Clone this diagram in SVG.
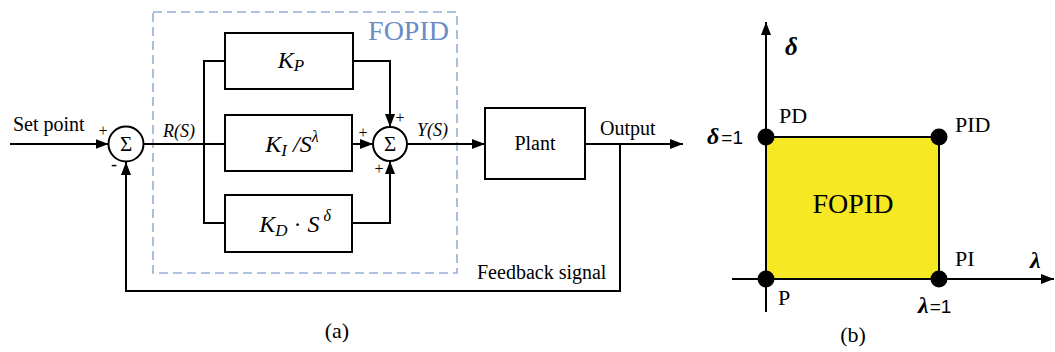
<svg xmlns="http://www.w3.org/2000/svg" width="1055" height="352" viewBox="0 0 1055 352">
<defs>
<marker id="arr" markerUnits="userSpaceOnUse" markerWidth="13" markerHeight="10" refX="13" refY="5" orient="auto">
<path d="M0,0 L13,5 L0,10 z" fill="#000"/>
</marker>
<style>
.t{font-family:'Liberation Serif','DejaVu Serif','Noto Serif',serif;fill:#000}
.it{font-style:italic}
.bi{font-style:italic;font-weight:bold}
.s{font-family:'Liberation Sans','DejaVu Sans',sans-serif;fill:#000}
.box{fill:#fff;stroke:#000;stroke-width:2}
.ln{fill:none;stroke:#000;stroke-width:2}
.ar{fill:none;stroke:#000;stroke-width:2;marker-end:url(#arr)}
.sum{fill:#fff;stroke:#000;stroke-width:2}
</style>
</defs>
<rect width="1055" height="352" fill="#fff"/>

<g id="fopid-frame">
<rect x="153" y="12" width="304" height="261" fill="none" stroke="#95b0d6" stroke-width="1.6" stroke-dasharray="9 5"/>
<text class="t" x="449" y="40" font-size="28" text-anchor="end" style="fill:#6a8cc6">FOPID</text>
</g>

<g id="connectors">
<path class="ar" d="M10,144 H108.5"/>
<path class="ln" d="M143.5,144 H225"/>
<path class="ln" d="M225,61 H204 V223 H225"/>
<path class="ar" d="M353,61 H390 V127"/>
<path class="ar" d="M352,144 H373"/>
<path class="ar" d="M352,223 H390 V161"/>
<path class="ar" d="M407,144 H485"/>
<path class="ar" d="M585,144 H683"/>
<path class="ar" d="M620,144 V291 H126 V162"/>
</g>

<g id="sum1">
<circle class="sum" cx="126" cy="144" r="17.5"/>
<text class="t" x="126" y="151" font-size="21" text-anchor="middle">Σ</text>
<text class="t" x="103" y="136" font-size="16" text-anchor="middle">+</text>
<text class="t" x="114" y="170" font-size="18" text-anchor="middle">-</text>
</g>

<g id="kp">
<rect class="box" x="225" y="33" width="128" height="56"/>
<text class="t it" x="291" y="68" font-size="24" text-anchor="middle">K<tspan font-size="17" dy="3">P</tspan></text>
</g>

<g id="ki">
<rect class="box" x="225" y="115" width="127" height="56"/>
<text class="t it" x="292" y="152" font-size="24" text-anchor="middle">K<tspan font-size="17" dy="4">I</tspan><tspan dy="-4"> /S</tspan><tspan font-size="16" dy="-10">λ</tspan></text>
</g>

<g id="kd">
<rect class="box" x="225" y="195" width="127" height="57"/>
<text class="t it" x="295" y="232" font-size="24" text-anchor="middle">K<tspan font-size="17" dy="4">D</tspan><tspan dy="-4" font-style="normal"> · </tspan><tspan>S</tspan><tspan font-size="16" dy="-11"> δ</tspan></text>
</g>

<g id="sum2">
<circle class="sum" cx="390" cy="144" r="17"/>
<text class="t" x="390" y="151" font-size="21" text-anchor="middle">Σ</text>
<text class="t" x="400" y="123" font-size="16" text-anchor="middle">+</text>
<text class="t" x="363" y="138" font-size="16" text-anchor="middle">+</text>
<text class="t" x="379" y="174" font-size="16" text-anchor="middle">+</text>
</g>

<g id="plant">
<rect class="box" x="485" y="108" width="100" height="71"/>
<text class="t" x="535" y="150" font-size="20" text-anchor="middle">Plant</text>
</g>

<g id="labels-a">
<text class="t" x="13" y="131" font-size="20">Set point</text>
<text class="t it" x="163" y="137" font-size="18">R(S)</text>
<text class="t it" x="417" y="136" font-size="18">Y(S)</text>
<text class="t" x="600" y="135" font-size="20">Output</text>
<text class="t" x="477" y="279" font-size="20">Feedback signal</text>
<text class="t" x="337" y="338" font-size="22" text-anchor="middle">(a)</text>
</g>

<g id="region">
<rect x="766" y="137" width="173" height="142" fill="#f6e823" stroke="#000" stroke-width="2"/>
<text class="t" x="853" y="213" font-size="28" text-anchor="middle">FOPID</text>
</g>
<g id="axes">
<path class="ar" d="M766,312 V22"/>
<path class="ar" d="M732,279 H1054"/>
</g>
<g id="p-node"><circle cx="766" cy="279" r="8.5" fill="#000"/><text class="t" x="778" y="305" font-size="22">P</text></g>
<g id="pd-node"><circle cx="766" cy="137" r="8.5" fill="#000"/><text class="t" x="779" y="123" font-size="22">PD</text></g>
<g id="pid-node"><circle cx="939" cy="137" r="8.5" fill="#000"/><text class="t" x="955" y="132" font-size="22">PID</text></g>
<g id="pi-node"><circle cx="939" cy="279" r="8.5" fill="#000"/><text class="t" x="955" y="266" font-size="22">PI</text></g>
<g id="labels-b">
<text class="t bi" x="785" y="55" font-size="25">δ</text>
<text class="t bi" x="1030" y="268" font-size="24">λ</text>
<text x="707" y="144"><tspan class="t bi" font-size="24">δ</tspan><tspan class="s" font-size="19" dx="2">=1</tspan></text>
<text x="918" y="313"><tspan class="t bi" font-size="24">λ</tspan><tspan class="s" font-size="19" dx="1">=1</tspan></text>
<text class="t" x="853" y="342" font-size="22" text-anchor="middle">(b)</text>
</g>
</svg>
